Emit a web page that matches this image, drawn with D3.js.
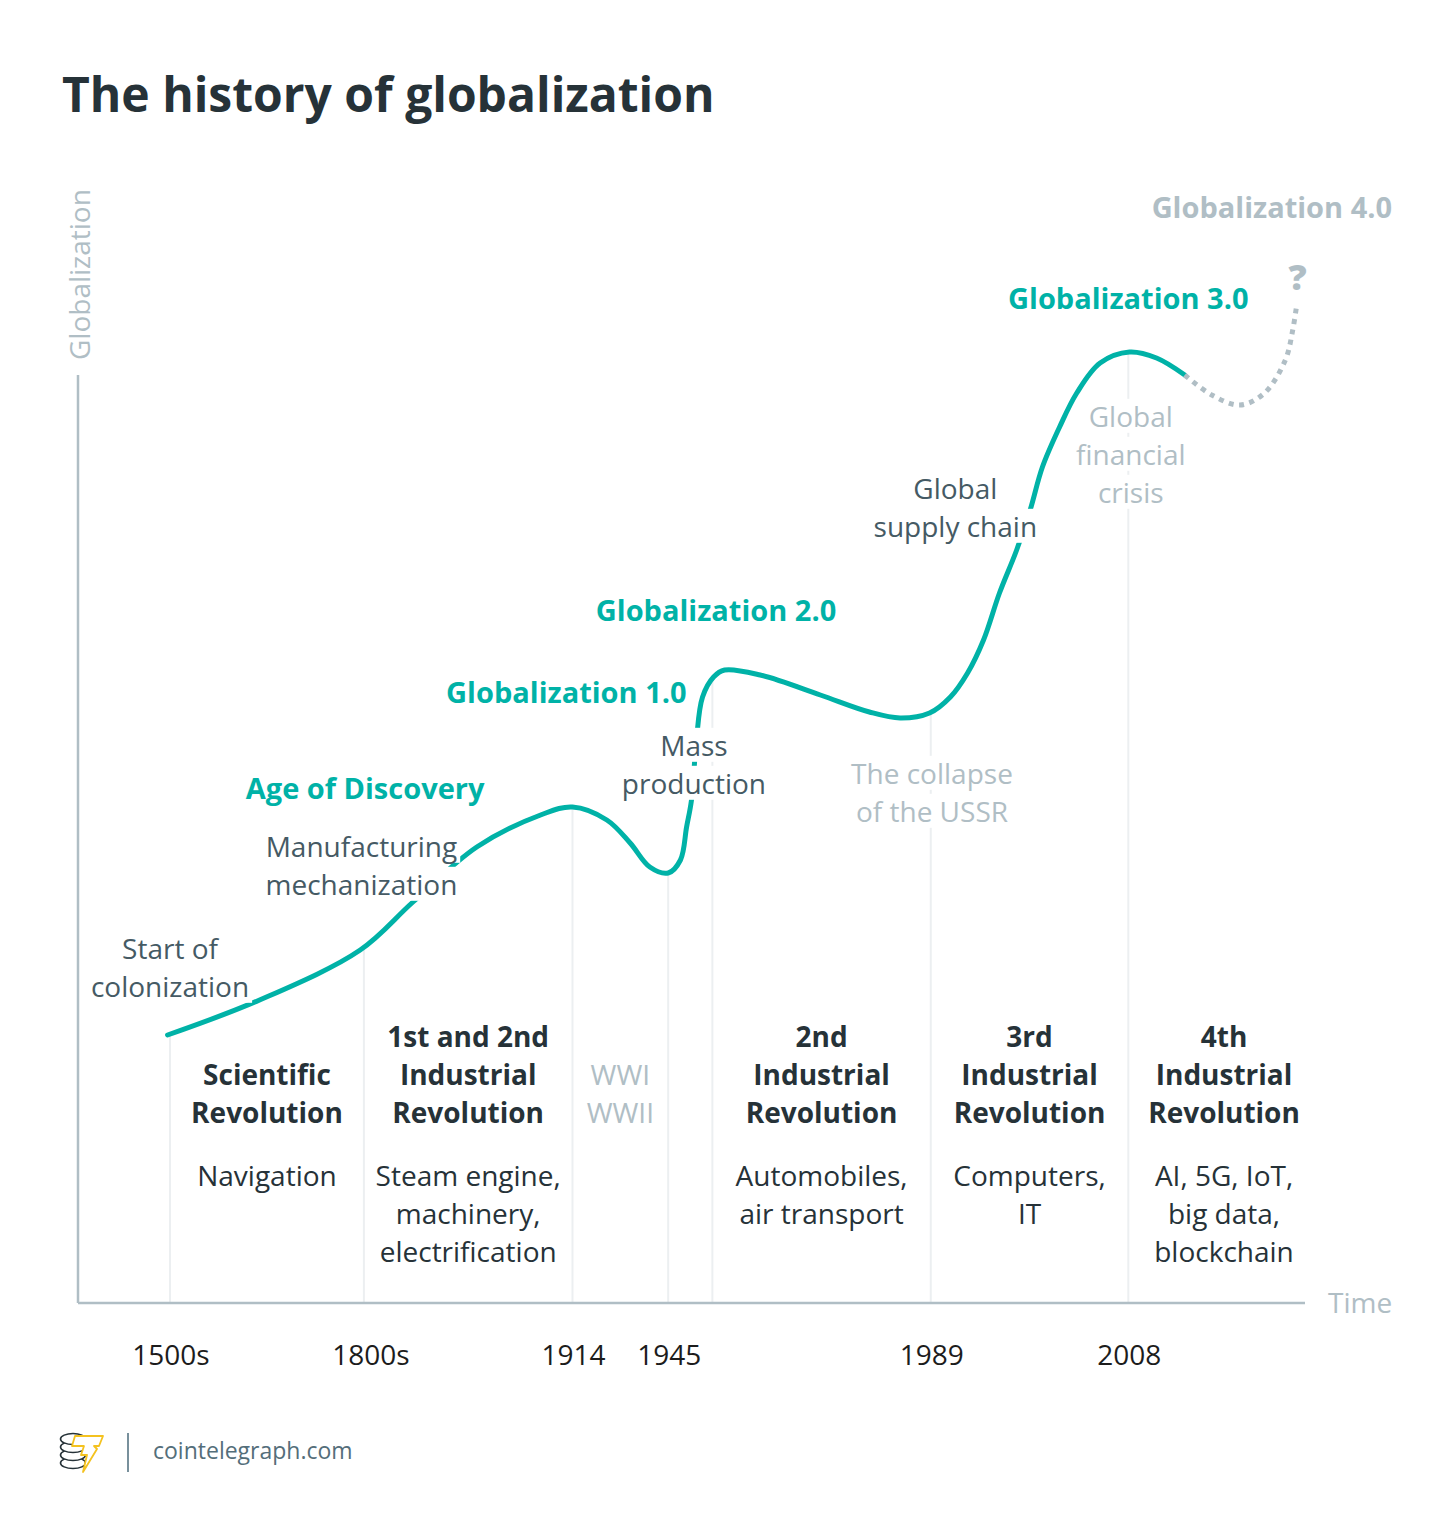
<!DOCTYPE html>
<html>
<head>
<meta charset="utf-8">
<script src="https://cdn.jsdelivr.net/npm/d3@7"></script>
<style>
  body { margin: 0; background: #fff; }
  svg { display: block; font-family: "Open Sans", sans-serif; }
</style>
</head>
<body>
<svg id="chart" width="1450" height="1533"></svg>
<script>
// conceptual chart: time runs 0..100 along x, globalization 0..100 up y
const curvePoints = [
  [7.3, 26.8], [14.8, 30.3], [23.0, 35.3], [27.3, 40.1], [32.5, 45.6], [37.7, 48.8],
  [40.3, 49.6], [43.1, 48.3], [45.0, 46.0], [46.6, 43.6], [48.1, 43.0], [49.1, 44.3],
  [49.6, 47.6], [50.0, 50.3], [50.4, 56.3], [50.9, 60.6], [51.8, 62.6], [52.7, 63.3],
  [55.6, 62.8], [60.5, 60.8], [64.5, 59.1], [67.0, 58.5], [69.4, 59.0], [71.1, 60.6],
  [72.5, 63.0], [73.8, 66.3], [75.1, 71.0], [76.5, 75.3], [77.6, 79.3], [78.6, 83.6],
  [80.0, 87.6], [81.4, 91.0], [83.3, 94.0], [85.7, 95.1], [87.9, 94.5], [90.2, 92.8]
];
const futurePoints = [
  [90.2, 92.8], [92.4, 90.8], [94.7, 89.8], [96.7, 91.0], [98.4, 94.3], [99.0, 97.3], [99.3, 99.6]
];

const tickYears = ["1500s", "1800s", "1914", "1945", "", "1989", "2008"];
const tickTimes = [7.5, 23.3, 40.3, 48.1, 51.7, 69.5, 85.6];

const eraFrom = [7.5, 23.3, 40.3, 51.7, 69.5, 85.6];
const eraTo = [23.3, 40.3, 48.1, 69.5, 85.6, 101.2];
const eraTitles = [
  ["Scientific", "Revolution"],
  ["1st and 2nd", "Industrial", "Revolution"],
  ["WWI", "WWII"],
  ["2nd", "Industrial", "Revolution"],
  ["3rd", "Industrial", "Revolution"],
  ["4th", "Industrial", "Revolution"]
];
const eraNotes = [
  ["Navigation"],
  ["Steam engine,", "machinery,", "electrification"],
  [],
  ["Automobiles,", "air transport"],
  ["Computers,", "IT"],
  ["AI, 5G, IoT,", "big data,", "blockchain"]
];
const eraMuted = [false, false, true, false, false, false];

const stageLabels = ["Age of Discovery", "Globalization 1.0", "Globalization 2.0", "Globalization 3.0", "Globalization 4.0"];
const stageAt = [[23.4, 51.4], [39.8, 61.0], [52.0, 69.2], [85.6, 100.4], [97.3, 109.5]];
const stageMuted = [false, false, false, false, true];

const eventNotes = [
  ["Start of", "colonization"],
  ["Manufacturing", "mechanization"],
  ["Mass", "production"],
  ["Global", "supply chain"],
  ["The collapse", "of the USSR"],
  ["Global", "financial", "crisis"]
];
const eventNoteAt = [[7.5, 35.4], [23.1, 45.6], [50.2, 55.7], [71.5, 81.4], [69.6, 52.9], [85.8, 88.6]];
const eventNoteMuted = [false, false, false, false, true, true];

(function() {
  const svg = d3.select("#chart");
  const teal = "#00b2a7", dark = "#263238", slate = "#455a64", muted = "#b0bec5";
  const lineH = 38, fs = 28;

  const x = d3.scaleLinear().domain([0, 100]).range([78, 1305]);
  const y = d3.scaleLinear().domain([0, 100]).range([1303, 303]);

  svg.append("rect").attr("width", 1450).attr("height", 1533).attr("fill", "#fff");

  svg.append("text")
    .attr("x", 62).attr("y", 112)
    .attr("font-size", 48).attr("font-weight", 700)
    .attr("fill", dark)
    .text("The history of globalization");

  const line = d3.line()
    .x(d => x(d[0]))
    .y(d => y(d[1]))
    .curve(d3.curveCatmullRom.alpha(0.5));

  const gridG = svg.append("g");
  const curveG = svg.append("g");

  const curve = curveG.append("path")
    .datum(curvePoints)
    .attr("d", line)
    .attr("fill", "none")
    .attr("stroke", teal)
    .attr("stroke-width", 5)
    .attr("stroke-linecap", "round");

  curveG.append("path")
    .datum(futurePoints)
    .attr("d", line)
    .attr("fill", "none")
    .attr("stroke", muted)
    .attr("stroke-width", 5)
    .attr("stroke-dasharray", "5 5.5");

  // gridlines rise from the axis to meet the curve
  const node = curve.node(), total = node.getTotalLength();
  const samples = d3.range(0, total, 0.5).map(l => node.getPointAtLength(l));
  gridG.selectAll("line")
    .data(tickTimes)
    .join("line")
    .attr("x1", d => x(d)).attr("x2", d => x(d))
    .attr("y1", y(0))
    .attr("y2", d => {
      const px = x(d);
      return d3.least(samples, s => Math.abs(s.x - px)).y;
    })
    .attr("stroke", "#eceff1")
    .attr("stroke-width", 2);

  // axes
  svg.append("line")
    .attr("x1", x(0)).attr("x2", x(100))
    .attr("y1", y(0)).attr("y2", y(0))
    .attr("stroke", muted).attr("stroke-width", 2.5);
  svg.append("line")
    .attr("x1", x(0)).attr("x2", x(0))
    .attr("y1", y(0)).attr("y2", y(92.8))
    .attr("stroke", muted).attr("stroke-width", 2.5);

  svg.append("text")
    .attr("transform", `translate(${x(0) + 12},${y(94.3)}) rotate(-90)`)
    .attr("font-size", fs).attr("fill", muted)
    .text("Globalization");
  svg.append("text")
    .attr("x", x(100) + 23).attr("y", y(0)).attr("dy", "0.35em")
    .attr("font-size", fs).attr("fill", muted)
    .text("Time");

  svg.append("g").selectAll("text")
    .data(tickYears.filter(d => d !== ""))
    .join("text")
    .attr("x", d => x(tickTimes[tickYears.indexOf(d)]) + (d === "1800s" ? 7 : 1))
    .attr("y", y(0) + 52).attr("dy", "0.35em")
    .attr("text-anchor", "middle")
    .attr("font-size", fs).attr("fill", "#1c1c1c")
    .text(d => d);

  // era blocks under the curve
  const eraG = svg.append("g").attr("text-anchor", "middle").attr("font-size", fs);
  eraTitles.forEach((lines, i) => {
    const cx = x((eraFrom[i] + eraTo[i]) / 2);
    const bottom = y(19);
    lines.forEach((t, j) => {
      eraG.append("text")
        .attr("x", cx)
        .attr("y", bottom - (lines.length - 1 - j) * lineH)
        .attr("dy", "0.35em")
        .attr("font-weight", eraMuted[i] ? 400 : 700)
        .attr("fill", eraMuted[i] ? muted : dark)
        .text(t);
    });
    eraNotes[i].forEach((t, j) => {
      eraG.append("text")
        .attr("x", cx)
        .attr("y", y(12.7) + j * lineH)
        .attr("dy", "0.35em")
        .attr("fill", dark)
        .text(t);
    });
  });

  // annotations along the curve, each line knocked out of the curve behind it
  const noteG = svg.append("g").attr("text-anchor", "middle").attr("font-size", fs);
  eventNotes.forEach((lines, i) => {
    lines.forEach((t, j) => {
      const g = noteG.append("g");
      const txt = g.append("text")
        .attr("x", x(eventNoteAt[i][0]))
        .attr("y", y(eventNoteAt[i][1]) + j * lineH)
        .attr("dy", "0.35em")
        .attr("fill", eventNoteMuted[i] ? muted : slate)
        .text(t);
      const b = txt.node().getBBox();
      g.insert("rect", "text")
        .attr("x", b.x - 3).attr("y", b.y + 2)
        .attr("width", b.width + 6).attr("height", b.height - 4)
        .attr("fill", "#fff");
    });
  });

  svg.append("g").selectAll("text")
    .data(stageLabels)
    .join("text")
    .attr("x", (d, i) => x(stageAt[i][0]))
    .attr("y", (d, i) => y(stageAt[i][1]))
    .attr("dy", "0.35em")
    .attr("text-anchor", "middle")
    .attr("font-size", 29).attr("font-weight", 700)
    .attr("fill", (d, i) => stageMuted[i] ? muted : teal)
    .text(d => d);

  svg.append("text")
    .attr("x", x(99.4)).attr("y", y(102.6)).attr("dy", "0.35em")
    .attr("text-anchor", "middle")
    .attr("font-size", 36).attr("font-weight", 800)
    .attr("fill", muted)
    .text("?");

  // footer logo
  const logo = svg.append("g").attr("transform", "translate(60,1433)");
  [30, 22, 14, 6].forEach(cy => {
    logo.append("ellipse")
      .attr("cx", 13).attr("cy", cy).attr("rx", 12.5).attr("ry", 5.5)
      .attr("fill", "#fff").attr("stroke", dark).attr("stroke-width", 1.6);
  });
  logo.append("path")
    .attr("d", "M15,3 L43,3 L39,13 L34,13 L37,16 L23,39 L27,22 L21,22 L24,13 L12,13 Z")
    .attr("fill", "#fff").attr("stroke", "#f4c21f").attr("stroke-width", 1.8)
    .attr("stroke-linejoin", "round");
  svg.append("line")
    .attr("x1", 128).attr("x2", 128).attr("y1", 1433).attr("y2", 1472)
    .attr("stroke", "#78909c").attr("stroke-width", 2);
  svg.append("text")
    .attr("x", 153).attr("y", 1451).attr("dy", "0.35em")
    .attr("font-size", 23).attr("fill", "#546e7a")
    .text("cointelegraph.com");
})();
</script>
</body>
</html>
